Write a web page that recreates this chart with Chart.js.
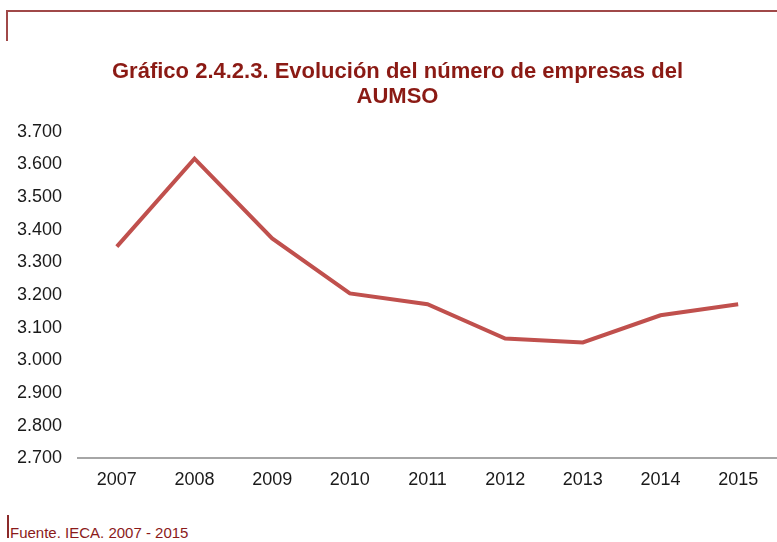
<!DOCTYPE html>
<html>
<head>
<meta charset="utf-8">
<script src="https://cdn.jsdelivr.net/npm/chart.js@4/dist/chart.umd.min.js"></script>
<style>
  html, body { margin: 0; padding: 0; background: #fff; overflow: hidden; }
  body { width: 777px; height: 542px; position: relative; font-family: "Liberation Sans", Arial, sans-serif; }
  #topLine { position: absolute; left: 6px; top: 10px; width: 771px; height: 2px; background: #a04848; }
  #topTick { position: absolute; left: 6px; top: 10px; width: 2px; height: 31px; background: #a04848; }
  #srcTick { position: absolute; left: 7px; top: 515px; width: 2px; height: 23px; background: #8b2a2a; }
  #source { position: absolute; left: 10px; top: 524px; font-size: 15px; color: #8b1a1a; }
  #wrap { position: absolute; left: 10px; top: 40px; width: 780px; height: 476px; }
</style>
</head>
<body>
<div id="topLine"></div>
<div id="topTick"></div>
<div id="wrap"><canvas id="chart"></canvas></div>
<div id="srcTick"></div>
<div id="source">Fuente. IECA. 2007 - 2015</div>
<script>
const years = ['2007', '2008', '2009', '2010', '2011', '2012', '2013', '2014', '2015'];
const empresas = [3348, 3617, 3373, 3205, 3172, 3067, 3055, 3138, 3172];
const yTicks = [2700, 2800, 2900, 3000, 3100, 3200, 3300, 3400, 3500, 3600, 3700];
const titleLines = ['Gráfico 2.4.2.3. Evolución del número de empresas del', 'AUMSO'];

function fmt(v) {
  return String(v).replace(/\B(?=(\d{3})+(?!\d))/g, '.');
}

const ctx = document.getElementById('chart').getContext('2d');
new Chart(ctx, {
  type: 'line',
  data: {
    labels: years,
    datasets: [{
      label: 'Empresas',
      data: empresas,
      borderColor: '#c0504d',
      borderWidth: 4,
      pointRadius: 0,
      tension: 0,
      fill: false
    }]
  },
  options: {
    responsive: true,
    maintainAspectRatio: false,
    animation: false,
    layout: { padding: { left: 8, right: 13, top: 0, bottom: 14 } },
    plugins: {
      legend: { display: false },
      tooltip: { enabled: false },
      title: {
        display: true,
        text: titleLines,
        color: '#8b1a14',
        font: { family: '"Liberation Sans", Arial, sans-serif', size: 22, weight: 'bold', lineHeight: 1.15 },
        padding: { top: 19, bottom: 22 }
      }
    },
    scales: {
      x: {
        offset: true,
        grid: { display: false, drawTicks: false },
        border: { display: true, color: '#a6a6a6', width: 2 },
        ticks: {
          color: '#1a1a1a',
          padding: 11,
          font: { family: '"Liberation Sans", Arial, sans-serif', size: 18 }
        }
      },
      y: {
        min: yTicks[0],
        max: yTicks[yTicks.length - 1],
        afterBuildTicks: (axis) => { axis.ticks = yTicks.map(v => ({ value: v })); },
        afterFit: (axis) => { axis.width = 60; },
        grid: { display: false, drawTicks: false },
        border: { display: false },
        ticks: {
          color: '#1a1a1a',
          padding: 16,
          callback: (v) => fmt(v),
          font: { family: '"Liberation Sans", Arial, sans-serif', size: 18 }
        }
      }
    }
  }
});
</script>
</body>
</html>
